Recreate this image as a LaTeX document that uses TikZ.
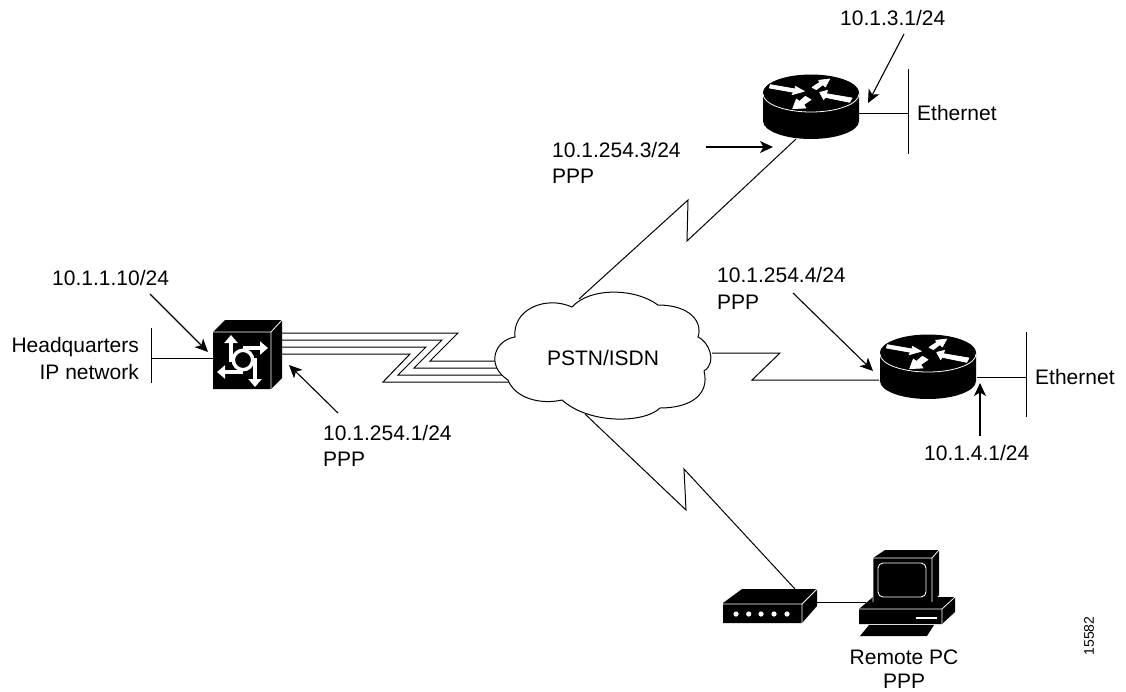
\documentclass[tikz,border=0pt]{standalone}
\usepackage{fontspec}
\setmainfont{Liberation Sans}
\usetikzlibrary{arrows.meta}
\tikzset{
  lbl/.style={inner sep=0pt,font=\fontsize{21}{25}\selectfont},
  thin line/.style={line width=1pt,black,line join=miter},
  callout/.style={line width=1.1pt,black,-{Stealth[length=13pt,width=12pt,inset=3.5pt]}},
  whitetip/.style={line width=3.2pt,white,-{Triangle[length=8pt,width=13pt]}},
  router/.pic={
    \fill[black] (-48,0) -- (-48,28) arc[start angle=180,end angle=360,x radius=48pt,y radius=18pt] -- (48,0) arc[start angle=0,end angle=180,x radius=48pt,y radius=18pt] -- cycle;
    \fill[black] (0,0) ellipse[x radius=48pt,y radius=18.5pt];
    \draw[white,line width=0.8pt] (-48,1) arc[start angle=180,end angle=360,x radius=48pt,y radius=18pt];
    \begin{scope}[x=0.3333pt,y=-0.3333pt,shift={(-212,-130)},line width=0.7pt,line join=round]
      \filldraw[white] (90,105) -- (165,118) -- (165,110) -- (192,125) -- (155,135) -- (160,128) -- (87,115) -- cycle;
      \filldraw[white] (238,128) -- (262,122) -- (258,132) -- (335,145) -- (328,158) -- (255,143) -- (250,150) -- cycle;
      \filldraw[white] (268,88) -- (235,92) -- (238,98) -- (215,113) -- (228,120) -- (248,105) -- (255,112) -- cycle;
      \filldraw[white] (157,177) -- (168,148) -- (177,155) -- (195,140) -- (212,150) -- (190,165) -- (197,175) -- cycle;
    \end{scope}
  }
}
\begin{document}
\begin{tikzpicture}[x=1pt,y=-1pt]
\useasboundingbox (0,0) rectangle (1126,691);

% named connector ends
\coordinate (swA) at (282,333); \coordinate (swB) at (282,340);
\coordinate (swC) at (282,347); \coordinate (swD) at (282,354);
\coordinate (clA) at (505,361); \coordinate (clB) at (505,368);
\coordinate (clC) at (510,375); \coordinate (clD) at (515,382);
\coordinate (cloudTop) at (579,299);
\coordinate (cloudRight) at (712,353);
\coordinate (cloudBottom) at (585,414);
\coordinate (r1Bottom) at (796,139);
\coordinate (r1Right) at (859,113);
\coordinate (r2Left) at (879,380);
\coordinate (r2Right) at (977,377);
\coordinate (modemTop) at (795,589);
\coordinate (modemRight) at (817,602);
\coordinate (pcLeft) at (866,602);
\coordinate (swLeft) at (213,358);
\coordinate (hqMid) at (151,358);
\coordinate (hqT) at (151,328); \coordinate (hqB) at (151,383);
\coordinate (eaMid) at (908,113);
\coordinate (eaT) at (908,69); \coordinate (eaB) at (908,154);
\coordinate (ebMid) at (1026,377);
\coordinate (ebT) at (1026,332); \coordinate (ebB) at (1026,417);

% connectors
\draw[thin line] (swA) -- (458,333) -- (430,361) -- (clA);
\draw[thin line] (swB) -- (442,340) -- (414,368) -- (clB);
\draw[thin line] (swC) -- (426,347) -- (398,375) -- (clC);
\draw[thin line] (swD) -- (410,354) -- (383,382) -- (clD);
\draw[thin line] (cloudTop) -- (688,200) -- (687,241) -- (r1Bottom);
\draw[thin line] (cloudRight) -- (780,353) -- (752,380) -- (r2Left);
\draw[thin line] (cloudBottom) -- (686,510) -- (684,469) -- (modemTop);
\draw[thin line] (r1Right) -- (eaMid);
\draw[thin line] (eaT) -- (eaB);
\draw[thin line] (r2Right) -- (ebMid);
\draw[thin line] (ebT) -- (ebB);
\draw[thin line] (swLeft) -- (hqMid);
\draw[thin line] (hqT) -- (hqB);
\draw[thin line] (modemRight) -- (pcLeft);

% cloud
\draw[thin line,fill=white] (572,307)
  .. controls (590,287) and (635,288) .. (658,305)
  .. controls (690,305) and (703,322) .. (698,337)
  .. controls (708,341) and (718,362) .. (704,371)
  .. controls (710,395) and (690,408) .. (660,408)
  .. controls (645,423) and (590,425) .. (562,400)
  .. controls (540,405) and (515,398) .. (508,380)
  .. controls (485,365) and (495,340) .. (515,337)
  .. controls (512,310) and (545,295) .. (572,307) -- cycle;
\node[lbl,anchor=base] (cloudlabel) at (603,365) {PSTN/ISDN};

% routers
\pic at (811,93) {router};
\pic at (928,353) {router};

% switch
\fill[black] (213,332) -- (225,320) -- (282,320) -- (282,378) -- (271,389) -- (213,389) -- cycle;
\draw[white,line width=0.8pt,line join=round] (213,332) -- (271,332) -- (271,389) (271,332) -- (282,320);
\draw[whitetip] (231,362) -- (231,335);
\draw[whitetip] (243,348) -- (268,348);
\draw[whitetip] (255,358) -- (255,387);
\draw[whitetip] (243,372) -- (217,372);
\draw[white,line width=3.5pt,fill=black] (243,360) circle[radius=9.7pt];

% modem
\fill[black] (723,603) -- (742,589) -- (817,589) -- (817,606) -- (802,623) -- (723,623) -- cycle;
\draw[white,line width=0.8pt,line join=round] (723,604) -- (802,604) -- (802,623) (802,604) -- (817,589);
\foreach \lx in {736,748.7,761,774,787}
  \fill[white] (\lx,614) circle[radius=2.6pt];

% PC
\fill[black] (859,609) -- (873,597) -- (955,597) -- (955,612) -- (942,624) -- (859,624) -- cycle;
\draw[white,line width=0.8pt,line join=round] (859,609) -- (942,609) -- (942,624) (942,609) -- (955,597);
\draw[white,line width=1.4pt] (916,618) -- (937,618);
\fill[black] (873,558) -- (885,550) -- (939,550) -- (939,595) -- (932,602) -- (873,602) -- cycle;
\draw[white,line width=0.8pt,line join=round] (873,602) -- (873,558) -- (932,558) -- (932,602) (932,558) -- (939,550);
\draw[white,line width=0.9pt,rounded corners=5pt] (878,563) rectangle (926,597);
\fill[black] (869,625) -- (934,625) -- (927,636) -- (860,636) -- cycle;

% callouts
\coordinate (a1s) at (150,294); \coordinate (a1e) at (208,352);
\coordinate (a2s) at (338,413); \coordinate (a2e) at (289,365);
\coordinate (a3s) at (706,147); \coordinate (a3e) at (773,147);
\coordinate (a4s) at (904,34);  \coordinate (a4e) at (868,103);
\coordinate (a5s) at (793,293); \coordinate (a5e) at (873,371);
\coordinate (a6s) at (980,436); \coordinate (a6e) at (980,383);
\draw[callout] (a1s) -- (a1e);
\draw[callout] (a2s) -- (a2e);
\draw[callout] (a3s) -- (a3e);
\draw[callout] (a4s) -- (a4e);
\draw[callout] (a5s) -- (a5e);
\draw[callout] (a6s) -- (a6e);

% labels
\node[lbl,anchor=base west] (t1) at (52,285) {10.1.1.10/24};
\node[lbl,anchor=base east] (t2) at (139,352) {Headquarters};
\node[lbl,anchor=base east] (t3) at (139,379) {IP network};
\node[lbl,anchor=base west] (t4) at (323,440) {10.1.254.1/24};
\node[lbl,anchor=base west] (t5) at (323,466) {PPP};
\node[lbl,anchor=base west] (t6) at (552,157) {10.1.254.3/24};
\node[lbl,anchor=base west] (t7) at (552,183) {PPP};
\node[lbl,anchor=base west] (t8) at (840,25) {10.1.3.1/24};
\node[lbl,anchor=base west] (t9) at (917,120) {Ethernet};
\node[lbl,anchor=base west] (t10) at (717,282) {10.1.254.4/24};
\node[lbl,anchor=base west] (t11) at (717,309) {PPP};
\node[lbl,anchor=base west] (t12) at (1035,384) {Ethernet};
\node[lbl,anchor=base west] (t13) at (924,460) {10.1.4.1/24};
\node[lbl,anchor=base] (t14) at (904,664) {Remote PC};
\node[lbl,anchor=base] (t15) at (904,688) {PPP};
\node[inner sep=0pt,font=\fontsize{14}{16}\selectfont,rotate=90] (t16) at (1089,636) {15582};
\end{tikzpicture}
\end{document}
